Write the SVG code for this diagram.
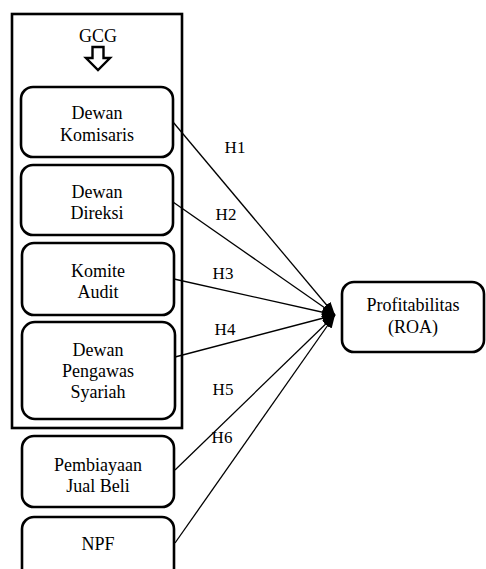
<svg xmlns="http://www.w3.org/2000/svg" width="486" height="569" viewBox="0 0 486 569" font-family="'Liberation Serif', 'Times New Roman', Times, serif">
<style>
.box{fill:#fff;stroke:#000;stroke-width:2.6}
text{font-family:'Liberation Serif','Times New Roman',Times,serif;fill:#000;text-anchor:middle}
.t{font-size:18px}
.h{font-size:17px}
.ln{stroke:#000;stroke-width:1.3;fill:none;marker-end:url(#ah)}
</style>
<defs>
<marker id="ah" markerUnits="userSpaceOnUse" markerWidth="14" markerHeight="10" refX="13" refY="5" orient="auto">
<path d="M0,0 L13,5 L0,10 z" fill="#000"/>
</marker>
</defs>
<rect width="486" height="569" fill="#fff"/>
<g id="gcg">
<rect x="12" y="14" width="170" height="414" fill="none" stroke="#000" stroke-width="2.6"/>
<text class="t" x="98" y="42">GCG</text>
<path d="M92.5,47 L103.5,47 L103.5,58 L110,58 L98,70 L86,58 L92.5,58 Z" fill="#fff" stroke="#000" stroke-width="2.4" stroke-linejoin="miter"/>
</g>
<g id="dewan-komisaris">
<rect class="box" x="21" y="87" width="152" height="70" rx="12"/>
<text class="t" x="97" y="119">Dewan</text>
<text class="t" x="97" y="141">Komisaris</text>
</g>
<g id="dewan-direksi">
<rect class="box" x="21" y="165" width="152" height="70" rx="12"/>
<text class="t" x="97" y="198">Dewan</text>
<text class="t" x="97" y="219">Direksi</text>
</g>
<g id="komite-audit">
<rect class="box" x="22" y="243" width="152" height="72" rx="12"/>
<text class="t" x="98" y="277">Komite</text>
<text class="t" x="98" y="298">Audit</text>
</g>
<g id="dps">
<rect class="box" x="22" y="322" width="153" height="97" rx="13"/>
<text class="t" x="98" y="356">Dewan</text>
<text class="t" x="98" y="377">Pengawas</text>
<text class="t" x="98" y="398">Syariah</text>
</g>
<g id="pembiayaan">
<rect class="box" x="22" y="436" width="152" height="71" rx="12"/>
<text class="t" x="98" y="471">Pembiayaan</text>
<text class="t" x="98" y="492">Jual Beli</text>
</g>
<g id="npf">
<rect class="box" x="22" y="517" width="152" height="80" rx="12"/>
<text class="t" x="98" y="550">NPF</text>
</g>
<g id="roa">
<rect class="box" x="342" y="282" width="142" height="70" rx="12"/>
<text class="t" x="413" y="311">Profitabilitas</text>
<text class="t" x="413" y="333">(ROA)</text>
</g>
<g id="connectors">
<line class="ln" x1="173" y1="122" x2="335" y2="315"/>
<line class="ln" x1="173" y1="202" x2="335" y2="315"/>
<line class="ln" x1="174" y1="279" x2="335" y2="315"/>
<line class="ln" x1="175" y1="357" x2="335" y2="315"/>
<line class="ln" x1="175" y1="470" x2="335" y2="315"/>
<line class="ln" x1="175" y1="543" x2="335" y2="315"/>
<text class="h" x="235" y="153">H1</text>
<text class="h" x="226" y="220">H2</text>
<text class="h" x="223" y="279">H3</text>
<text class="h" x="225" y="335">H4</text>
<text class="h" x="223" y="395">H5</text>
<text class="h" x="222" y="443">H6</text>
</g>
</svg>
